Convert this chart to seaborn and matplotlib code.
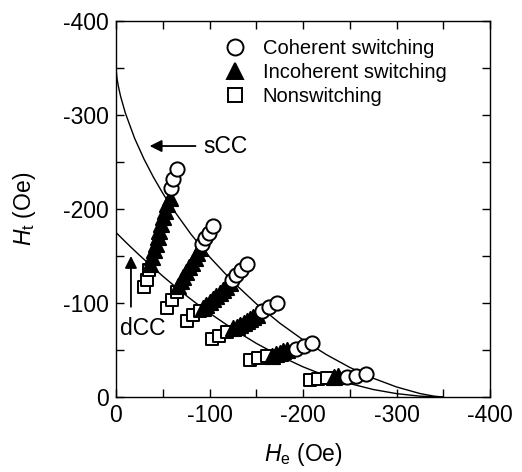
import matplotlib
matplotlib.use("Agg")
import matplotlib.pyplot as plt
from matplotlib.lines import Line2D
from matplotlib.ticker import MultipleLocator
import seaborn as sns
import pandas as pd

# ---------------- data (Oe) ----------------
coh_he = [-58.8, -61.3, -64.9, -92, -95.5, -99, -104, -124, -128, -134, -140,
          -156, -164, -172, -192, -201, -210, -247, -257, -267.5]
coh_ht = [-222, -231.5, -243, -163, -169, -175, -182, -125, -130, -135, -142,
          -91, -95.5, -100, -51.5, -54.5, -57, -21.6, -22.5, -24]

incoh_he = [-36.5, -38.5, -40.5, -42.5, -44.5, -46.5, -48.5, -50.5, -52.5, -55, -57.5,
            -66, -69, -72, -75, -78, -81, -84, -87, -90,
            -93, -96.5, -100, -103.5, -107, -111, -114.5, -118, -122,
            -125, -129, -133, -136.5, -140, -143.5, -147, -151,
            -167, -171, -175, -179, -183,
            -233, -237]
incoh_ht = [-142, -149, -156, -163, -170, -177, -184, -191, -198, -205, -212,
            -118, -123, -128, -133, -138, -143, -148, -153, -158,
            -95, -98, -101, -104, -107.5, -111, -114, -117.5, -121,
            -73, -75, -77, -79, -81, -83, -85, -87,
            -44, -45.5, -47, -48.5, -50,
            -21, -22]

non_he = [-30, -32.8, -35.6, -54.2, -59.6, -64.9, -75.6, -82.7, -89.8,
          -102.3, -110.5, -118.4, -143.3, -152.2, -161.2, -207.5, -216.4, -225.5]
non_ht = [-117, -125, -135, -94.5, -103, -112, -80.5, -87, -92,
          -61.5, -65, -69.5, -39.5, -42, -43.6, -18, -18.8, -20]

# critical curves
scc_he = [0, -1, -2.5, -5, -10, -20, -30, -40, -50, -60, -80, -100, -125, -150,
          -175, -200, -225, -250, -275, -300, -325, -340, -350]
scc_ht = [-350, -339.4, -330.7, -319.5, -302.1, -275.0, -253.0, -233.9, -216.8,
          -201.1, -173.4, -149.1, -122.5, -99.2, -78.7, -60.8, -45.1, -31.5,
          -20.0, -10.7, -3.7, -0.9, 0]
dcc_he = [0, -12.5, -25, -37.5, -50, -62.5, -75, -87.5, -100, -125, -150, -175,
          -200, -225, -250, -275, -300, -325, -350]
dcc_ht = [-175, -162.7, -150.9, -139.6, -128.6, -118.1, -108.0, -98.4, -89.3,
          -72.3, -57.1, -43.75, -32.1, -22.3, -14.3, -8.0, -3.6, -0.9, 0]

legend_labels = ["Coherent switching", "Incoherent switching", "Nonswitching"]

# ---------------- style ----------------
sns.set_style("ticks")
plt.rcParams["font.family"] = ["Liberation Sans", "DejaVu Sans"]
plt.rcParams["mathtext.fontset"] = "custom"
plt.rcParams["mathtext.it"] = "Liberation Sans:italic"
plt.rcParams["mathtext.rm"] = "Liberation Sans"
plt.rcParams["axes.unicode_minus"] = False
for k in ["text.color", "axes.labelcolor", "xtick.color", "ytick.color", "axes.edgecolor"]:
    plt.rcParams[k] = "black"

FS = 16.5
LFS = 14.5

fig = plt.figure(figsize=(5.22, 4.72), dpi=100)
ax = fig.add_axes([116 / 522, 75 / 472, 374 / 522, 376 / 472])

scc = pd.DataFrame({"he": scc_he, "ht": scc_ht})
dcc = pd.DataFrame({"he": dcc_he, "ht": dcc_ht})
sns.lineplot(data=scc, x="he", y="ht", sort=False, color="black", lw=1.0, ax=ax, zorder=1)
sns.lineplot(data=dcc, x="he", y="ht", sort=False, color="black", lw=1.0, ax=ax, zorder=1)

ms_kw = dict(linewidth=1.4, edgecolor="black", ax=ax, zorder=3)
sns.scatterplot(x=non_he, y=non_ht, marker="s", color="white", s=80, **ms_kw)
sns.scatterplot(x=incoh_he, y=incoh_ht, marker="^", color="black", s=120, **ms_kw)
sns.scatterplot(x=coh_he, y=coh_ht, marker="o", color="white", s=105, **ms_kw)

ax.set_xlim(0, -400)
ax.set_ylim(0, -400)
ax.xaxis.set_major_locator(MultipleLocator(100))
ax.xaxis.set_minor_locator(MultipleLocator(50))
ax.yaxis.set_major_locator(MultipleLocator(100))
ax.yaxis.set_minor_locator(MultipleLocator(50))
ax.tick_params(which="both", direction="in", top=True, right=True,
               labelsize=FS, width=1.0, pad=5, colors="black")
ax.tick_params(which="major", length=6)
ax.tick_params(which="minor", length=6)
for sp in ax.spines.values():
    sp.set_linewidth(1.0)
    sp.set_color("black")

ax.set_xlabel(r"$H_\mathrm{e}$ (Oe)", fontsize=FS, labelpad=10, color="black")
ax.set_ylabel(r"$H_\mathrm{t}$ (Oe)", fontsize=FS, labelpad=18, color="black")

# annotations
ax.annotate("", xy=(-33, -267), xytext=(-88, -267),
            arrowprops=dict(arrowstyle="-|>", color="black", lw=1.3, mutation_scale=18))
ax.text(-93, -267, "sCC", fontsize=FS, va="center", ha="left", color="black")
ax.annotate("", xy=(-16, -153), xytext=(-16, -93),
            arrowprops=dict(arrowstyle="-|>", color="black", lw=1.3, mutation_scale=18))
ax.text(-4, -73, "dCC", fontsize=FS, va="center", ha="left", color="black")

handles = [
    Line2D([], [], ls="none", marker="o", mfc="white", mec="black", mew=1.4, ms=11.5),
    Line2D([], [], ls="none", marker="^", mfc="black", mec="black", mew=1.4, ms=11.5),
    Line2D([], [], ls="none", marker="s", mfc="white", mec="black", mew=1.4, ms=10),
]
leg = ax.legend(handles, legend_labels, loc="upper left", bbox_to_anchor=(0.29, 0.951),
                frameon=False, fontsize=LFS, handlelength=1.0, handletextpad=0.9,
                labelspacing=0.25, borderpad=0, borderaxespad=0)
for t in leg.get_texts():
    t.set_color("black")

fig.savefig("out.png", dpi=100)
